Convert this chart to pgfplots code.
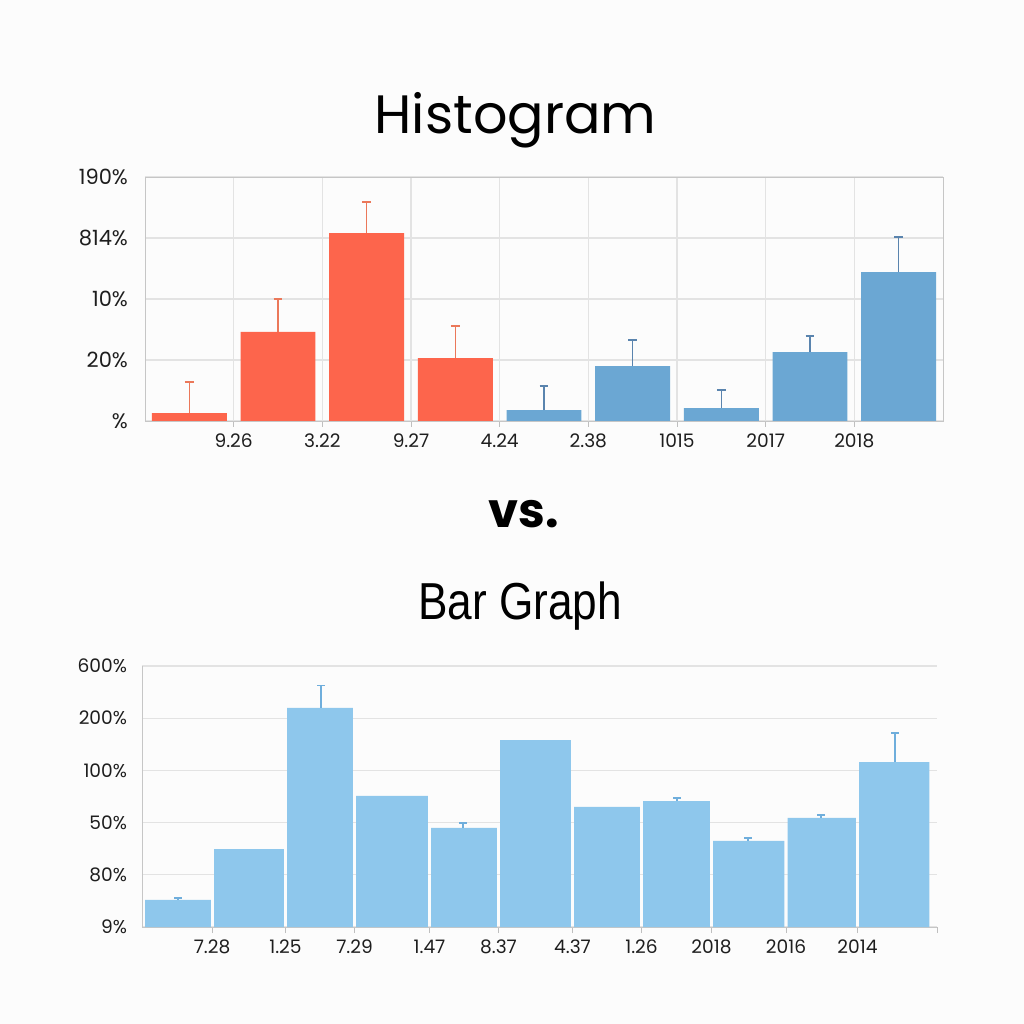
\documentclass[border=0pt]{standalone}
\usepackage{pgfplots}
\pgfplotsset{compat=1.18}
\usepackage{fontspec}
\setmainfont{Poppins}
\newfontfamily\barfont{Liberation Sans}
\definecolor{bg}{HTML}{FCFCFC}
\definecolor{redbar}{HTML}{FD654C}
\definecolor{rederr}{HTML}{EB785A}
\definecolor{bluebar}{HTML}{6BA7D3}
\definecolor{blueerr}{HTML}{5A84AE}
\definecolor{lbar}{HTML}{8EC7EC}
\definecolor{lerr}{HTML}{6FAEDC}
\definecolor{txt}{HTML}{1E1E1E}
\begin{document}
\begin{tikzpicture}[x=1pt,y=1pt]
\fill[bg] (0,0) rectangle (512,512);
\useasboundingbox (0,0) rectangle (512,512);
\node[anchor=base, inner sep=0pt, font=\fontsize{27}{31}\selectfont] at (257.75,445) {Histogram};
\node[anchor=base, inner sep=0pt, font=\fontsize{24}{30}\selectfont\bfseries] at (261.75,248) {vs.};
\node[anchor=base, inner sep=0pt, font=\barfont\fontsize{26}{30}\selectfont] at (260,202) {\scalebox{0.85}[1]{Bar Graph}};

% Top: Histogram
\begin{axis}[
  at={(72.5pt,301.5pt)}, anchor=south west, scale only axis,
  width=399pt, height=122pt,
  xmin=0, xmax=9, ymin=0, ymax=4,
  ybar, bar width=0.845, bar shift=0pt,
  axis line style={draw=gray!45},
  grid=major, grid style={draw=gray!22, line width=0.6pt},
  xtick={1,...,8}, xticklabels={9.26,3.22,9.27,4.24,2.38,1015,2017,2018},
  ytick={0,...,4}, yticklabels={\%,20\%,10\%,814\%,190\%},
  xtick pos=bottom, tick align=outside, major tick length=3pt,
  xtick style={draw=gray!50},
  ytick style={draw=none},
  xticklabel style={font=\fontsize{9.3}{11}\selectfont, text=txt},
  yticklabel style={font=\fontsize{10.5}{12}\selectfont, text=txt, xshift=-2pt},
]
\addplot[fill=redbar, draw=none, error bars/.cd, y dir=plus, y explicit,
  error bar style={line width=0.8pt, draw=rederr},
  error mark options={rotate=90, mark size=2.2pt, line width=0.8pt, draw=rederr}]
  coordinates {(0.5,0.13) +- (0,0.51) (1.5,1.46) +- (0,0.54) (2.5,3.08) +- (0,0.51) (3.5,1.03) +- (0,0.53)};
\addplot[fill=bluebar, draw=none, error bars/.cd, y dir=plus, y explicit,
  error bar style={line width=0.8pt, draw=blueerr},
  error mark options={rotate=90, mark size=2.2pt, line width=0.8pt, draw=blueerr}]
  coordinates {(4.5,0.18) +- (0,0.39) (5.5,0.90) +- (0,0.43) (6.5,0.21) +- (0,0.30) (7.5,1.13) +- (0,0.26) (8.5,2.44) +- (0,0.58)};
\end{axis}

% Bottom: Bar Graph
\begin{axis}[
  at={(71pt,48.5pt)}, anchor=south west, scale only axis,
  width=397.5pt, height=130.5pt,
  xmin=142, xmax=937, ymin=0, ymax=5,
  axis lines=left, axis line style={-, draw=gray!45},
  ymajorgrids, grid style={draw=gray!22, line width=0.6pt},
  xtick={212,285.5,354.5,429.5,498.5,572.5,641.5,711.5,786,857.5,937},
  xticklabels={7.28,1.25,7.29,1.47,8.37,4.37,1.26,2018,2016,2014,{}},
  ytick={0,...,5}, yticklabels={9\%,80\%,50\%,100\%,200\%,600\%},
  tick align=outside, major tick length=3pt,
  xtick style={draw=gray!50},
  ytick style={draw=none},
  xticklabel style={font=\fontsize{9.3}{11}\selectfont, text=txt},
  yticklabel style={font=\fontsize{9.3}{11}\selectfont, text=txt, xshift=-1pt},
]
\addplot[/pgf/bar interval width=0.955, /pgf/bar interval shift=0.5, /tikz/ybar interval, fill=lbar, draw=none]
  coordinates {(143.5,0.52) (212.5,1.49) (285.5,4.20) (354.5,2.51) (429.5,1.90) (498.5,3.58) (572.5,2.30) (641.5,2.41) (711.5,1.65) (786,2.09) (857.5,3.16) (931,0)};
\addplot[only marks, mark options={draw opacity=0, fill opacity=0}, error bars/.cd, y dir=plus, y explicit,
  error bar style={line width=0.8pt, draw=lerr},
  error mark options={rotate=90, mark size=2pt, line width=0.8pt, draw=lerr, draw opacity=1}]
  coordinates {(178,0.52) +- (0,0.04) (321,4.20) +- (0,0.43) (463,1.90) +- (0,0.09) (677,2.41) +- (0,0.06) (748,1.65) +- (0,0.05) (821,2.09) +- (0,0.06) (895,3.16) +- (0,0.56)};
\end{axis}
\end{tikzpicture}
\end{document}
